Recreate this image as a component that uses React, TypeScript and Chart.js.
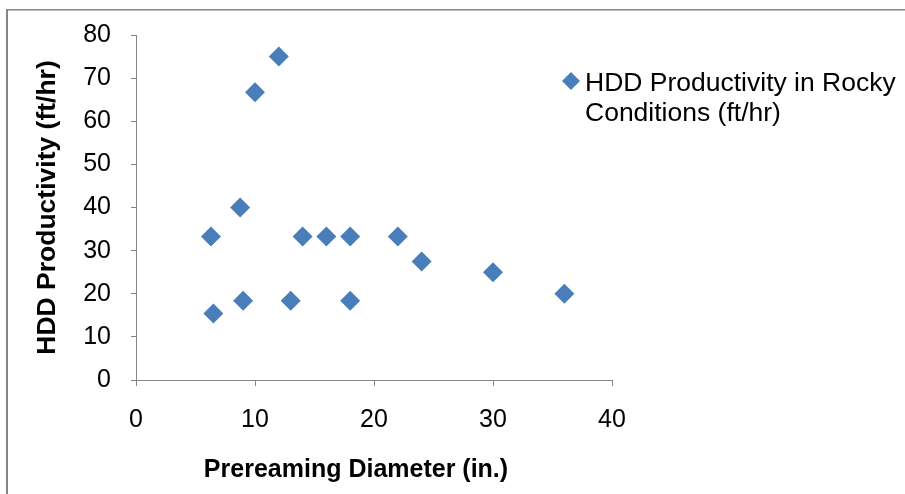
import React, { useEffect, useRef } from "react";
import { Chart, registerables } from "chart.js";

Chart.register(...registerables);

const diameters = [6.3, 6.5, 8.75, 9, 10, 12, 13, 14, 16, 18, 18, 22, 24, 30, 36];
const productivity = [33.3, 15.4, 40, 18.4, 66.7, 75, 18.4, 33.3, 33.3, 33.3, 18.4, 33.3, 27.5, 25, 20];
const seriesLabel = ["HDD Productivity in Rocky", "Conditions (ft/hr)"];
const xTitle = "Prereaming Diameter (in.)";
const yTitle = "HDD Productivity (ft/hr)";

const BLUE = "#4A7EBB";
const GRAY = "#868686";
const FONT = "'Liberation Sans', Arial, sans-serif";

export default function App() {
  const ref = useRef<HTMLCanvasElement | null>(null);

  useEffect(() => {
    if (!ref.current) return;
    const decor = {
      id: "decor",
      afterDraw(chart: any) {
        const ctx = chart.ctx;
        const area = chart.chartArea;
        ctx.save();
        // outer frame
        ctx.fillStyle = GRAY;
        ctx.fillRect(6, 9, 905 - 6, 1.5);
        ctx.fillRect(6, 9, 2, 494 - 9);
        // axis titles
        ctx.fillStyle = "#000";
        ctx.font = `bold 25px ${FONT}`;
        ctx.textAlign = "center";
        ctx.textBaseline = "middle";
        ctx.fillText(xTitle, 356, 470);
        ctx.font = `bold 26.5px ${FONT}`;
        ctx.translate(48, (area.top + area.bottom) / 2);
        ctx.rotate(-Math.PI / 2);
        ctx.fillText(yTitle, 0, 0);
        ctx.restore();
        // legend
        ctx.save();
        ctx.fillStyle = BLUE;
        const cx = 571, cy = 81, r = 9;
        ctx.beginPath();
        ctx.moveTo(cx - r, cy);
        ctx.lineTo(cx, cy - r);
        ctx.lineTo(cx + r, cy);
        ctx.lineTo(cx, cy + r);
        ctx.closePath();
        ctx.fill();
        ctx.fillStyle = "#000";
        ctx.font = `26.5px ${FONT}`;
        ctx.textAlign = "left";
        ctx.textBaseline = "alphabetic";
        seriesLabel.forEach((t, i) => ctx.fillText(t, 585, 91 + i * 30));
        ctx.restore();
      },
    };

    const chart = new Chart(ref.current, {
      type: "scatter",
      data: {
        datasets: [
          {
            label: seriesLabel.join(" "),
            data: diameters.map((x, i) => ({ x, y: productivity[i] })),
            pointStyle: "rectRot",
            pointRadius: 10,
            pointHoverRadius: 10,
            backgroundColor: BLUE,
            borderColor: BLUE,
            borderWidth: 0,
          },
        ],
      },
      options: {
        animation: false,
        responsive: false,
        maintainAspectRatio: false,
        events: [],
        layout: { padding: { left: 0, top: 34, right: 905 - 612, bottom: 0 } },
        plugins: { legend: { display: false }, tooltip: { enabled: false } },
        scales: {
          x: {
            type: "linear",
            min: 0,
            max: 40,
            afterFit: (s: any) => {
              s.height = 494 - 380;
            },
            ticks: {
              stepSize: 10,
              color: "#000",
              font: { family: FONT, size: 25 },
              padding: 19,
              maxRotation: 0,
            },
            grid: {
              display: true,
              drawOnChartArea: false,
              drawTicks: true,
              tickLength: 6,
              color: GRAY,
            },
            border: { display: true, color: GRAY, width: 1 },
          },
          y: {
            type: "linear",
            min: 0,
            max: 80,
            afterFit: (s: any) => {
              s.width = 136;
            },
            ticks: {
              stepSize: 10,
              color: "#000",
              font: { family: FONT, size: 25 },
              padding: 20,
            },
            grid: {
              display: true,
              drawOnChartArea: false,
              drawTicks: true,
              tickLength: 5,
              color: GRAY,
            },
            border: { display: true, color: GRAY, width: 1 },
          },
        },
      },
      plugins: [decor],
    });
    return () => chart.destroy();
  }, []);

  return (
    <div style={{ position: "absolute", left: 0, top: 0, width: 905, height: 494, background: "#fff" }}>
      <canvas ref={ref} width={905} height={494} style={{ width: 905, height: 494, display: "block" }} />
    </div>
  );
}
